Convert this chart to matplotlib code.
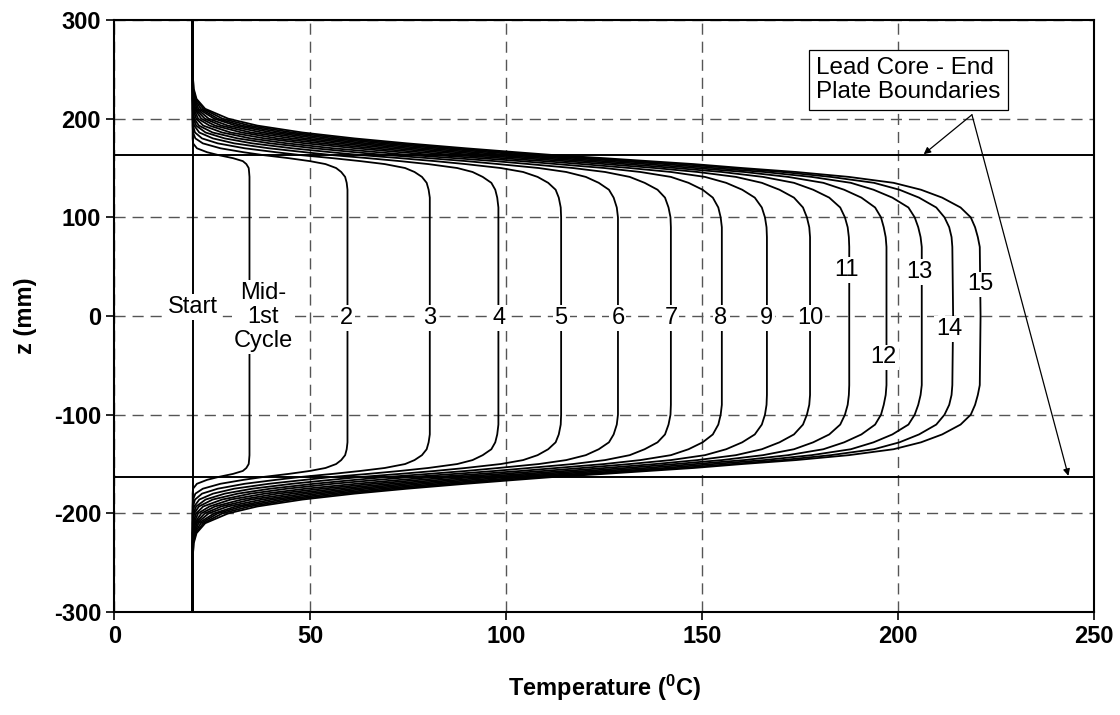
import matplotlib
matplotlib.use("Agg")
import matplotlib.pyplot as plt

plt.rcParams['font.family'] = ['Liberation Sans', 'DejaVu Sans']
plt.rcParams['mathtext.fontset'] = 'custom'
plt.rcParams['mathtext.rm'] = 'Liberation Sans'
plt.rcParams['mathtext.bf'] = 'Liberation Sans:bold'
plt.rcParams['mathtext.default'] = 'bf'
plt.rcParams['axes.unicode_minus'] = False

# height above the mid-plane (mm); profiles are symmetric, lower half mirrors this
z_half = [0, 70, 80, 90, 100, 110, 120, 128, 135, 141, 146, 150, 154, 157, 160,
          163, 166, 170, 175, 180, 186, 193, 200, 210, 220, 230, 240, 250, 300]

start_temp = 20
boundary_z = 163

# temperature (deg C) at each z_half, one list per curve
t_mid = [34.5, 34.5, 34.5, 34.5, 34.5, 34.5, 34.5, 34.5, 34.5, 34.5, 34.4, 34.3, 33.7, 32.8, 30.3,
         26.7, 23.7, 21.1, 20.1, 20, 20, 20, 20, 20, 20, 20, 20, 20, 20]
t_c2 = [59.5, 59.5, 59.5, 59.5, 59.5, 59.5, 59.5, 59.5, 59.3, 58.9, 57.9, 56.6, 53.9, 49.9, 44.5,
        38.2, 33.0, 27.1, 22.6, 20.7, 20.1, 20, 20, 20, 20, 20, 20, 20, 20]
t_c3 = [80.5, 80.5, 80.5, 80.5, 80.5, 80.5, 80.5, 80.2, 79.7, 78.5, 76.6, 74.2, 69.0, 62.8, 55.7,
        47.8, 41.3, 33.3, 26.4, 22.4, 20.6, 20.1, 20, 20, 20, 20, 20, 20, 20]
t_c4 = [98, 98, 98, 98, 98, 98, 97.7, 97.2, 96.2, 94.0, 91.4, 87.5, 80.1, 72.9, 64.7,
        55.9, 48.7, 39.5, 30.6, 25.2, 21.7, 20.4, 20, 20, 20, 20, 20, 20, 20]
t_c5 = [114, 114, 114, 114, 114, 113.9, 113.4, 112.6, 110.7, 108.0, 104.3, 98.6, 89.6, 81.8, 72.9,
        63.2, 55.3, 45.4, 35.2, 28.2, 23.3, 20.9, 20.2, 20, 20, 20, 20, 20, 20]
t_c6 = [128.5, 128.5, 128.5, 128.5, 128.5, 128.2, 127.4, 126.2, 123.6, 120.3, 115.3, 108.3, 98.0, 89.8, 80.2,
        69.9, 61.5, 51.0, 39.8, 31.5, 25.1, 21.6, 20.4, 20.1, 20, 20, 20, 20, 20]
t_c7 = [142, 142, 142, 142, 141.9, 141.4, 140.5, 138.6, 135.3, 131.5, 125.2, 117.0, 105.8, 97.1, 86.9,
        76.1, 67.3, 55.9, 44.1, 34.8, 27.5, 22.7, 20.9, 20.1, 20, 20, 20, 20, 20]
t_c8 = [155, 155, 155, 155, 154.7, 154.1, 152.7, 150.1, 146.5, 142.0, 134.2, 125.0, 112.8, 103.7, 93.3,
        82.1, 73.1, 61.7, 48.8, 38.4, 29.7, 24.3, 21.4, 20.3, 20, 20, 20, 20, 20]
t_c9 = [166.5, 166.5, 166.5, 166.4, 166.0, 165.2, 163.4, 160.2, 156.1, 150.7, 142.0, 131.5, 119.3, 109.6, 98.9,
        87.4, 78.1, 66.2, 53.0, 41.7, 32.5, 25.7, 22.2, 20.5, 20.1, 20, 20, 20, 20]
t_c10 = [177.5, 177.5, 177.5, 177.3, 176.7, 175.7, 173.4, 169.7, 165.2, 158.6, 148.8, 138.0, 125.2, 115.1, 104.3,
         92.5, 83.0, 70.8, 57.0, 45.4, 34.9, 27.3, 23.1, 20.7, 20.2, 20, 20, 20, 20]
t_c11 = [187.5, 187.5, 187.4, 187.1, 186.4, 185.2, 182.4, 178.3, 173.4, 165.5, 155.0, 143.2, 130.5, 120.1, 109.0,
         97.1, 87.5, 75.0, 61.0, 48.8, 37.7, 29.0, 24.1, 21.1, 20.2, 20, 20, 20, 20]
t_c12 = [197, 197, 196.8, 196.3, 195.6, 194.1, 190.6, 186.2, 180.9, 171.9, 160.7, 148.2, 135.6, 124.7, 113.5,
         101.4, 91.7, 79.1, 64.5, 52.2, 40.3, 31.0, 25.5, 21.5, 20.4, 20.1, 20, 20, 20]
t_c13 = [206, 206, 205.7, 205.1, 204.2, 202.6, 198.5, 193.7, 187.9, 177.9, 165.8, 152.8, 140.3, 129.3, 117.9,
         105.6, 95.8, 83.0, 68.2, 55.4, 42.9, 32.6, 26.4, 22.1, 20.5, 20.1, 20, 20, 20]
t_c14 = [214, 213.8, 213.6, 213.0, 211.8, 209.7, 205.3, 200.3, 193.8, 182.8, 170.4, 157.4, 144.4, 133.0, 121.7,
         109.2, 99.3, 86.5, 71.5, 58.4, 45.4, 34.5, 27.6, 22.7, 20.8, 20.2, 20.1, 20, 20]
t_c15 = [221, 220.8, 220.3, 219.6, 218.5, 215.9, 211.2, 205.8, 198.8, 187.4, 173.9, 160.2, 147.8, 136.3, 124.9,
         112.5, 102.6, 89.7, 74.7, 61.3, 48.0, 36.5, 29.1, 23.2, 21.0, 20.3, 20.1, 20, 20]

profiles = [t_mid, t_c2, t_c3, t_c4, t_c5, t_c6, t_c7, t_c8, t_c9, t_c10,
            t_c11, t_c12, t_c13, t_c14, t_c15]

curve_labels = ['Start', 'Mid-\n1st\nCycle', '2', '3', '4', '5', '6', '7', '8', '9', '10',
                '11', '12', '13', '14', '15']
# where each label sits (T, z)
label_x = [20, 38, 59.3, 80.4, 98.2, 114, 128.5, 142, 154.8, 166.5, 177.6, 186.8, 196.3, 205.5, 213, 221]
label_y = [9, -1, -2, -2, -2, -2, -2, -2, -2, -2, -2, 47, -42, 45, -13, 32]

fig = plt.figure(figsize=(11.2, 7.15), dpi=100)
ax = fig.add_axes([0.102, 0.144, 0.875, 0.828])

z_full = [-z for z in reversed(z_half)] + z_half[1:]

ax.plot([start_temp, start_temp], [-300, 300], color='black', lw=1.4, zorder=3)
for t in profiles:
    t_full = list(reversed(t)) + t[1:]
    ax.plot(t_full, z_full, color='black', lw=1.3, zorder=3)

ax.axhline(boundary_z, color='black', lw=1.4, zorder=3)
ax.axhline(-boundary_z, color='black', lw=1.4, zorder=3)

for lab, x, y in zip(curve_labels, label_x, label_y):
    ax.text(x, y, lab, ha='center', va='center', fontsize=17, zorder=4,
            linespacing=1.1,
            bbox=dict(boxstyle='square,pad=0.08', fc='white', ec='none'))

ax.text(179, 239.5, 'Lead Core - End\nPlate Boundaries', ha='left', va='center',
        fontsize=17.5, linespacing=1.1, zorder=5,
        bbox=dict(boxstyle='square,pad=0.3', fc='white', ec='black', lw=0.9))
arrow = dict(arrowstyle='-|>', color='black', lw=0.9, mutation_scale=10, shrinkA=0, shrinkB=0)
ax.annotate('', xy=(206.5, 164), xytext=(218.8, 204), arrowprops=arrow, zorder=5)
ax.annotate('', xy=(243.4, -162), xytext=(218.8, 204), arrowprops=arrow, zorder=5)

ax.set_xlim(0, 250)
ax.set_ylim(-300, 300)
ax.set_xticks(range(0, 251, 50))
ax.set_yticks(range(-300, 301, 100))
ax.grid(True, color='#555555', lw=1.0, linestyle=(0, (8, 5)))
ax.set_axisbelow(True)
for s in ax.spines.values():
    s.set_linewidth(1.5)
ax.tick_params(direction='out', length=6, width=1.2, labelsize=17)
for lab in ax.get_xticklabels() + ax.get_yticklabels():
    lab.set_fontweight('bold')

ax.set_xlabel('Temperature ($^0$C)', fontsize=17, fontweight='bold', labelpad=18)
ax.set_ylabel('z (mm)', fontsize=17, fontweight='bold', labelpad=12)

fig.savefig('out.png', dpi=100)
